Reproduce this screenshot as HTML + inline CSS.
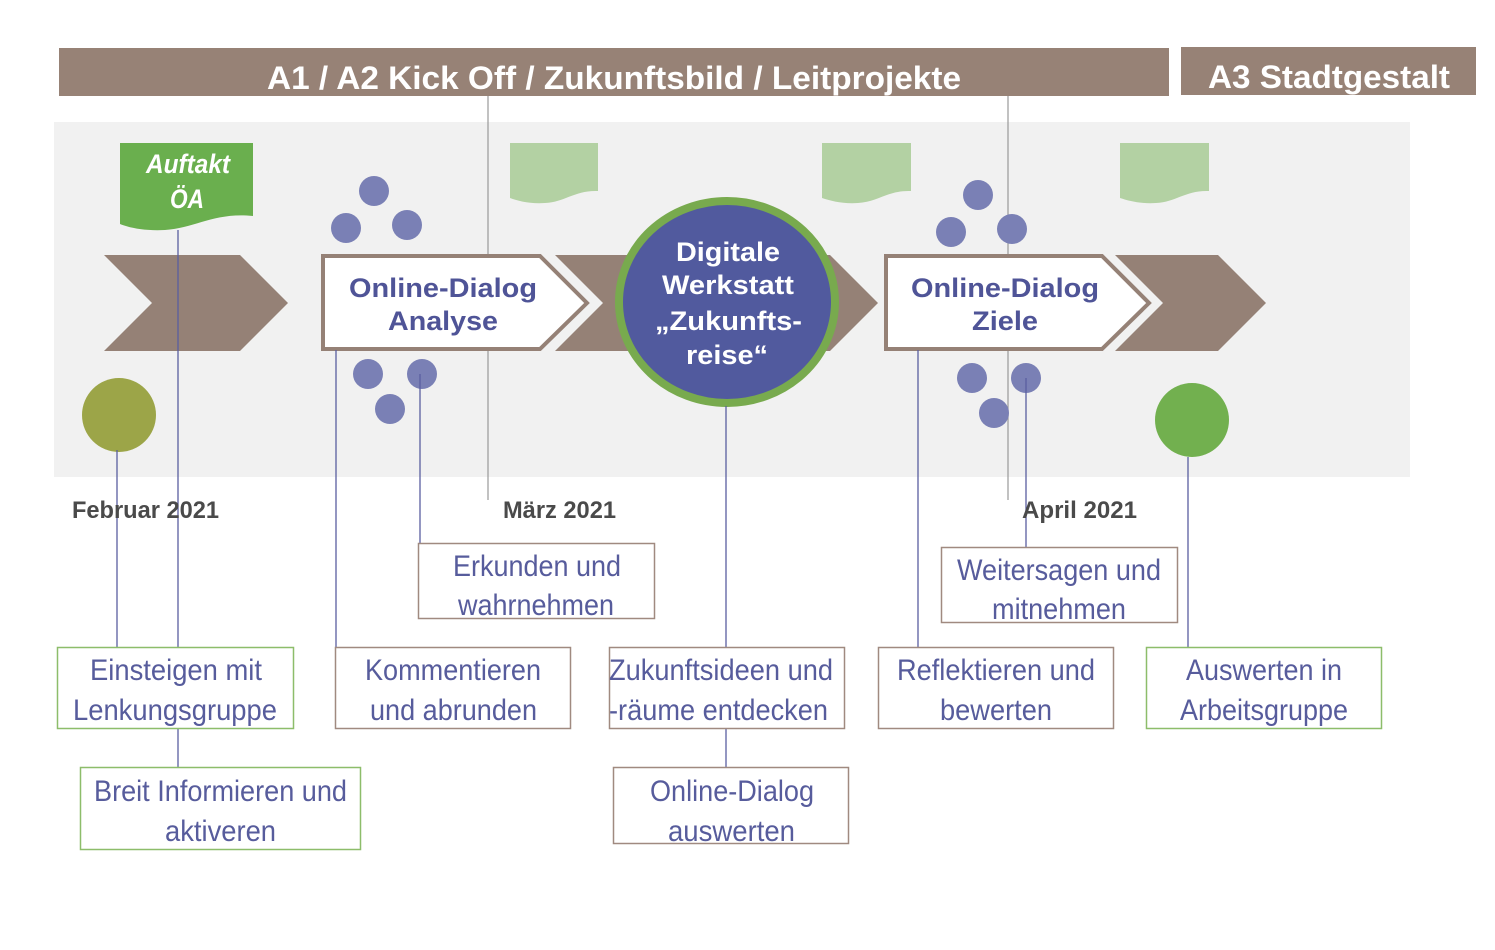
<!DOCTYPE html>
<html><head><meta charset="utf-8"><style>
html,body{margin:0;padding:0;background:#fff;}
svg{display:block;}
.b{font-family:"Liberation Sans",sans-serif;font-weight:bold;}
.n{font-family:"Liberation Sans",sans-serif;font-size:30px;fill:#575c9c;}
</style></head><body>
<svg width="1495" height="950" viewBox="0 0 1495 950" xmlns="http://www.w3.org/2000/svg">
<rect x="0" y="0" width="1495" height="950" fill="#fff"/>
<rect x="54" y="122" width="1356" height="355" fill="#f1f1f1"/>
<rect x="59" y="48" width="1110" height="48" fill="#978276"/>
<text x="267" y="89" class="b" font-size="32" fill="#fff" textLength="694" lengthAdjust="spacingAndGlyphs">A1 / A2 Kick Off / Zukunftsbild / Leitprojekte</text>
<rect x="1181" y="47" width="295" height="48" fill="#978276"/>
<text x="1208" y="88" class="b" font-size="32" fill="#fff" textLength="242" lengthAdjust="spacingAndGlyphs">A3 Stadtgestalt</text>
<line x1="488" y1="96" x2="488" y2="500" stroke="#999" stroke-width="1.2"/>
<line x1="1008" y1="96" x2="1008" y2="500" stroke="#999" stroke-width="1.2"/>
<path d="M120 143 H253 V216 C215 212 195 228 165 230 C145 231 130 228 120 224 Z" fill="#6aaf4e"/>
<text x="146" y="173" class="b" font-style="italic" font-size="27" fill="#fff" textLength="84" lengthAdjust="spacingAndGlyphs">Auftakt</text>
<text x="170" y="208" class="b" font-style="italic" font-size="27" fill="#fff" textLength="34" lengthAdjust="spacingAndGlyphs">ÖA</text>
<path d="M510 143 H598 V191 C575 190 565 202 545 203 C530 204 518 201 510 198 Z" fill="#b3d1a3"/>
<path d="M822 143 H911 V191 C888 190 878 202 858 203 C843 204 831 201 822 198 Z" fill="#b3d1a3"/>
<path d="M1120 143 H1209 V191 C1186 190 1176 202 1156 203 C1141 204 1129 201 1120 198 Z" fill="#b3d1a3"/>
<polygon points="104,255 240,255 288,303 240,351 104,351 152,303" fill="#958176"/>
<polygon points="555,255 830,255 878,303 830,351 555,351 603,303" fill="#958176"/>
<polygon points="1115,255 1218,255 1266,303 1218,351 1115,351 1163,303" fill="#958176"/>
<polygon points="323,256 540,256 587,303 540,349 323,349" fill="#fff" stroke="#958176" stroke-width="4"/>
<polygon points="886,256 1102,256 1149,303 1102,349 886,349" fill="#fff" stroke="#958176" stroke-width="4"/>
<text x="349" y="297" class="b" font-size="27" fill="#4f5497" textLength="188" lengthAdjust="spacingAndGlyphs">Online-Dialog</text>
<text x="388" y="330" class="b" font-size="27" fill="#4f5497" textLength="110" lengthAdjust="spacingAndGlyphs">Analyse</text>
<text x="911" y="297" class="b" font-size="27" fill="#4f5497" textLength="188" lengthAdjust="spacingAndGlyphs">Online-Dialog</text>
<text x="972" y="330" class="b" font-size="27" fill="#4f5497" textLength="66" lengthAdjust="spacingAndGlyphs">Ziele</text>
<ellipse cx="727" cy="302" rx="108" ry="101" fill="#515a9e" stroke="#78aa4e" stroke-width="8"/>
<g class="b" font-size="27" fill="#fff">
<text x="676" y="261" textLength="104" lengthAdjust="spacingAndGlyphs">Digitale</text>
<text x="662" y="294" textLength="132" lengthAdjust="spacingAndGlyphs">Werkstatt</text>
<text x="655" y="330" textLength="147" lengthAdjust="spacingAndGlyphs">„Zukunfts-</text>
<text x="686" y="364" textLength="82" lengthAdjust="spacingAndGlyphs">reise“</text>
</g>
<g fill="#7a80b5">
<circle cx="374" cy="191" r="15"/><circle cx="346" cy="228" r="15"/><circle cx="407" cy="225" r="15"/>
<circle cx="368" cy="374" r="15"/><circle cx="422" cy="374" r="15"/><circle cx="390" cy="409" r="15"/>
<circle cx="978" cy="195" r="15"/><circle cx="951" cy="232" r="15"/><circle cx="1012" cy="229" r="15"/>
<circle cx="972" cy="378" r="15"/><circle cx="1026" cy="378" r="15"/><circle cx="994" cy="413" r="15"/>
</g>
<circle cx="119" cy="415" r="37" fill="#9ca548"/>
<circle cx="1192" cy="420" r="37" fill="#72b04f"/>
<g stroke="#5a5fa0" stroke-width="1.3">
<line x1="178" y1="230" x2="178" y2="647"/>
<line x1="117" y1="450" x2="117" y2="647"/>
<line x1="336" y1="350" x2="336" y2="647"/>
<line x1="420" y1="374" x2="420" y2="543"/>
<line x1="726" y1="406" x2="726" y2="647"/>
<line x1="726" y1="729" x2="726" y2="767"/>
<line x1="178" y1="729" x2="178" y2="767"/>
<line x1="918" y1="350" x2="918" y2="647"/>
<line x1="1026" y1="378" x2="1026" y2="547"/>
<line x1="1188" y1="457" x2="1188" y2="647"/>
</g>
<g class="b" font-size="24" fill="#4a4a4a">
<text x="72" y="518" textLength="147" lengthAdjust="spacingAndGlyphs">Februar 2021</text>
<text x="503" y="518" textLength="113" lengthAdjust="spacingAndGlyphs">März 2021</text>
<text x="1022" y="518" textLength="115" lengthAdjust="spacingAndGlyphs">April 2021</text>
</g>
<g fill="#fff" stroke-width="1.5">
<rect x="418.5" y="543.5" width="236" height="75" stroke="#a08a80"/>
<rect x="941.5" y="547.5" width="236" height="75" stroke="#a08a80"/>
<rect x="57.5" y="647.5" width="236" height="81" stroke="#8dbd6a"/>
<rect x="335.5" y="647.5" width="235" height="81" stroke="#a08a80"/>
<rect x="609.5" y="647.5" width="235" height="81" stroke="#a08a80"/>
<rect x="878.5" y="647.5" width="235" height="81" stroke="#a08a80"/>
<rect x="1146.5" y="647.5" width="235" height="81" stroke="#8dbd6a"/>
<rect x="80.5" y="767.5" width="280" height="82" stroke="#8dbd6a"/>
<rect x="613.5" y="767.5" width="235" height="76" stroke="#a08a80"/>
</g>
<g class="n" lengthAdjust="spacingAndGlyphs">
<text x="453" y="576" textLength="168" lengthAdjust="spacingAndGlyphs">Erkunden und</text>
<text x="458" y="615" textLength="156" lengthAdjust="spacingAndGlyphs">wahrnehmen</text>
<text x="957" y="580" textLength="204" lengthAdjust="spacingAndGlyphs">Weitersagen und</text>
<text x="992" y="619" textLength="134" lengthAdjust="spacingAndGlyphs">mitnehmen</text>
<text x="90" y="680" textLength="172" lengthAdjust="spacingAndGlyphs">Einsteigen mit</text>
<text x="73" y="720" textLength="204" lengthAdjust="spacingAndGlyphs">Lenkungsgruppe</text>
<text x="365" y="680" textLength="176" lengthAdjust="spacingAndGlyphs">Kommentieren</text>
<text x="370" y="720" textLength="167" lengthAdjust="spacingAndGlyphs">und abrunden</text>
<text x="609" y="680" textLength="224" lengthAdjust="spacingAndGlyphs">Zukunftsideen und</text>
<text x="609" y="720" textLength="219" lengthAdjust="spacingAndGlyphs">-räume entdecken</text>
<text x="897" y="680" textLength="198" lengthAdjust="spacingAndGlyphs">Reflektieren und</text>
<text x="940" y="720" textLength="112" lengthAdjust="spacingAndGlyphs">bewerten</text>
<text x="1186" y="680" textLength="156" lengthAdjust="spacingAndGlyphs">Auswerten in</text>
<text x="1180" y="720" textLength="168" lengthAdjust="spacingAndGlyphs">Arbeitsgruppe</text>
<text x="94" y="801" textLength="253" lengthAdjust="spacingAndGlyphs">Breit Informieren und</text>
<text x="165" y="841" textLength="111" lengthAdjust="spacingAndGlyphs">aktiveren</text>
<text x="650" y="801" textLength="164" lengthAdjust="spacingAndGlyphs">Online-Dialog</text>
<text x="668" y="841" textLength="127" lengthAdjust="spacingAndGlyphs">auswerten</text>
</g>
</svg>
</body></html>
